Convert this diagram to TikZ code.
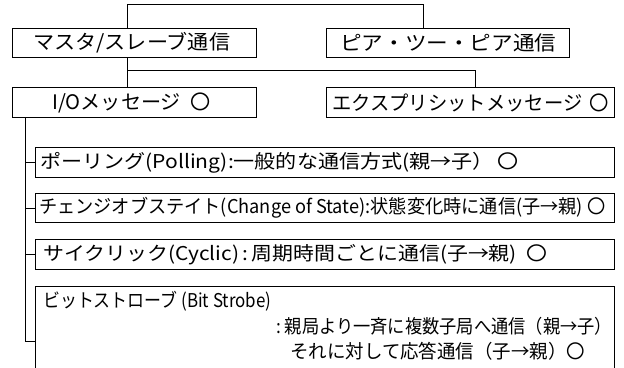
\documentclass[tikz,border=0pt]{standalone}
\usepackage{fontspec}
\setmainfont{Noto Sans CJK JP}
\newcommand{\fitw}[2]{\resizebox{#1}{\height}{#2}}
\begin{document}
\begin{tikzpicture}[x=1pt,y=-1pt,
  box/.style={draw,line width=1pt,inner sep=0pt,minimum height=29.5pt},
  conn/.style={line width=1pt},
  txt/.style={inner sep=0pt,font=\fontsize{20}{22}\selectfont},
  stxt/.style={inner sep=0pt,font=\fontsize{19}{21}\selectfont}]
\useasboundingbox (0,0) rectangle (624,367);
\clip (0,0) rectangle (624,367);
% boxes
\node[box,minimum width=243.5pt] (ms) at (134.25,43) {};
\node[box,minimum width=243.5pt] (pp) at (447.75,43) {};
\node[box,minimum width=243.5pt] (io) at (134.25,102.5) {};
\node[box,minimum width=288pt] (ex) at (470,102.5) {};
\node[box,minimum width=578.3pt] (po) at (324.85,162.5) {};
\node[box,minimum width=578.3pt] (ch) at (324.85,208) {};
\node[box,minimum width=578.3pt] (cy) at (324.85,254.5) {};
\node[box,minimum width=578.3pt,minimum height=100pt] (bs) at (324.85,336) {};
% texts
\node[txt,anchor=west] (t1) at (33,43) {\fitw{197pt}{マスタ/スレーブ通信}};
\node[txt,anchor=west] (t2) at (340,43) {\fitw{216pt}{ピア・ツー・ピア通信}};
\node[txt,anchor=west] (t3) at (52,102.5) {\fitw{158pt}{I/Oメッセージ\ \ 〇}};
\node[txt,anchor=west] (t4) at (332,102.5) {\fitw{277pt}{エクスプリシットメッセージ \,〇}};
\node[stxt,anchor=west] (t5) at (40,162.5) {\fitw{478pt}{ポーリング(Polling):一般的な通信方式(親→子）\,〇}};
\node[stxt,anchor=west] (t6) at (39,208) {\fitw{566pt}{チェンジオブステイト(Change of State):状態変化時に通信(子→親) 〇}};
\node[stxt,anchor=west] (t7) at (43,254.5) {\fitw{504pt}{サイクリック(Cyclic)\,:\,周期時間ごとに通信(子→親)\ \ 〇}};
\node[stxt,anchor=west] (t8) at (43,301) {\fitw{228pt}{ビットストローブ (Bit Strobe)}};
\node[stxt,anchor=west] (t9) at (276,326) {\fitw{336pt}{:\ 親局より一斉に複数子局へ通信（親→子）}};
\node[stxt,anchor=west] (t10) at (290,351) {\fitw{295pt}{それに対して応答通信（子→親）〇}};
% junction points
\coordinate (j1) at (127,4);
\coordinate (j2) at (423,4);
\coordinate (j3) at (127,70.5);
\coordinate (j4) at (475,70.5);
\coordinate (lb) at (25,341);
% connectors
\draw[conn] (ms.north -| j1) -- (j1) -- (j2) -- (pp.north -| j2);
\draw[conn] (ms.south -| j1) -- (io.north -| j1);
\draw[conn] (j3) -- (j4) -- (ex.north -| j4);
\draw[conn] (io.south -| lb) -- (lb) -- (lb -| bs.west);
\draw[conn] (po.west -| lb) -- (po.west);
\draw[conn] (ch.west -| lb) -- (ch.west);
\draw[conn] (cy.west -| lb) -- (cy.west);
\end{tikzpicture}
\end{document}
